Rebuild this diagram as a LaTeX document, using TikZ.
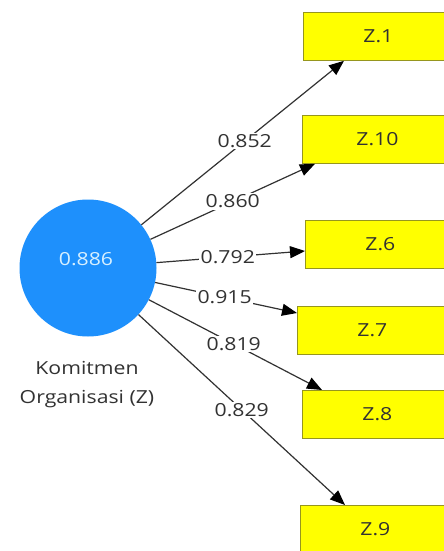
\documentclass[tikz,border=0pt]{standalone}
\usepackage{fontspec}
\setmainfont{Open Sans}[FakeStretch=1.18]
\usetikzlibrary{arrows.meta,calc}
\definecolor{latent}{RGB}{30,144,252}
\definecolor{indfill}{RGB}{255,255,0}
\definecolor{indline}{RGB}{150,150,30}
\definecolor{ink}{RGB}{50,50,50}
\definecolor{valtext}{RGB}{215,240,255}
\tikzset{
  ind/.style={draw=indline, line width=0.8pt, fill=indfill, minimum width=150pt,
    minimum height=48pt, inner sep=0pt, anchor=north west, text=ink,
    font=\fontsize{18}{18}\selectfont},
  load/.style={draw=ink, line width=1.2pt,
    -{Triangle[length=15pt,width=12pt,color=black]}},
  coef/.style={fill=white, inner sep=1.5pt, text=ink,
    font=\fontsize{18}{18}\selectfont},
}
\begin{document}
\begin{tikzpicture}[x=1pt,y=-1pt]
\useasboundingbox[fill=white] (0,0) rectangle (444,551);

% latent construct
\node[circle, fill=latent, minimum size=137pt, inner sep=0pt] (c) at (88,268) {};
\node[text=valtext, font=\fontsize{18}{18}\selectfont] (val) at (86,259) {0.886};
\node[text=ink, align=center, anchor=north, font=\fontsize{18}{29}\selectfont]
  (cname) at (87,358) {Komitmen\\Organisasi (Z)};

% indicator boxes
\node[ind] (z1)  at (303,12)  {Z.1};
\node[ind] (z10) at (302,115) {Z.10};
\node[ind] (z6)  at (305,220) {Z.6};
\node[ind] (z7)  at (297,306) {Z.7};
\node[ind] (z8)  at (302,390) {Z.8};
\node[ind] (z9)  at (300,505) {Z.9};

% outer loadings
\draw[load] (c) -- node[coef, pos=0.51] (l1) {0.852} ($(z1.south west)+(41,0)$);
\draw[load] (c) -- node[coef, pos=0.50] (l10) {0.860} ($(z10.south west)+(13,0)$);
\draw[load] (c) -- node[coef, pos=0.48] (l6) {0.792} ($(z6.north west)+(0,31)$);
\draw[load] (c) -- node[coef, pos=0.49] (l7) {0.915} ($(z7.north west)+(0,7)$);
\draw[load] (c) -- node[coef, pos=0.49] (l8) {0.819} ($(z8.north west)+(20,0)$);
\draw[load] (c) -- node[coef, pos=0.50] (l9) {0.829} ($(z9.north west)+(45,0)$);
\end{tikzpicture}
\end{document}
